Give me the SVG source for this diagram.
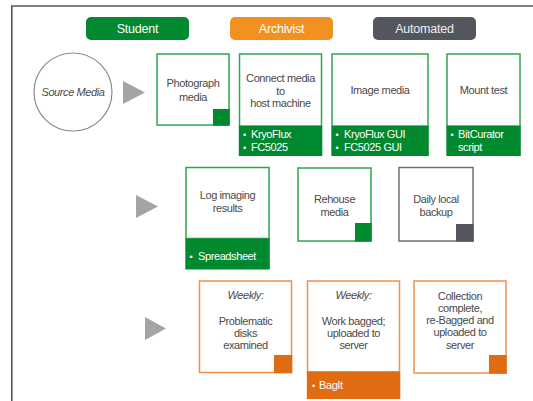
<svg xmlns="http://www.w3.org/2000/svg" width="533" height="401" viewBox="0 0 533 401">
<style>
text{font-family:"Liberation Sans",Arial,sans-serif;font-size:11px;letter-spacing:-0.4px;fill:#4a4a4a;text-anchor:middle}
.pill{font-size:12.5px;letter-spacing:-0.2px;fill:#fff}
.ft{fill:#fff;text-anchor:start}
.b{fill:#fff;font-size:9px}
.it{font-style:italic}
.g{fill:#fff;stroke:#2fa64c;stroke-width:1.5}
.o{fill:#fff;stroke:#f0904c;stroke-width:1.5}
.k{fill:#fff;stroke:#6e7075;stroke-width:1.5}
.gf{fill:#00892f}
.of{fill:#df6b12}
.kf{fill:#53565d}
.arr{fill:#a3a5a4}
</style>
<rect width="533" height="401" fill="#fff"/>
<path d="M11.8 401V6H533" fill="none" stroke="#555" stroke-width="1.6"/>

<g id="legend-student"><rect x="86" y="17" width="103" height="23" rx="5" class="gf"/><text x="137.5" y="33" class="pill">Student</text></g>
<g id="legend-archivist"><rect x="230" y="17" width="103" height="23" rx="5" fill="#f29122"/><text x="281.5" y="33" class="pill">Archivist</text></g>
<g id="legend-automated"><rect x="373" y="17" width="103" height="23" rx="5" class="kf"/><text x="424.5" y="33" class="pill" style="fill:#eee">Automated</text></g>

<g id="source-media"><circle cx="73" cy="92" r="39" fill="#fff" stroke="#8a8a8a" stroke-width="1.2"/><text x="73" y="96" class="it">Source Media</text></g>

<g id="connectors">
<polygon points="123,81 145,92.5 123,104" class="arr"/>
<polygon points="136,195 158,206.5 136,218" class="arr"/>
<polygon points="145,317 166,328.5 145,340" class="arr"/>
</g>

<g id="photograph"><rect x="157" y="54" width="72" height="71" class="g"/><rect x="213" y="109" width="16.7" height="16.7" class="gf"/><text x="193" y="87">Photograph</text><text x="193" y="101">media</text></g>

<g id="connect"><rect x="239.5" y="54" width="82" height="72" class="g"/><rect x="238.8" y="126" width="83.5" height="30" class="gf"/><text x="280.5" y="82">Connect media</text><text x="280.5" y="95">to</text><text x="280.5" y="107">host machine</text><text x="244.5" y="138" class="b">•</text><text x="251" y="138" class="ft">KryoFlux</text><text x="244.5" y="151" class="b">•</text><text x="251" y="151" class="ft">FC5025</text></g>

<g id="image-media"><rect x="332" y="54" width="96" height="72" class="g"/><rect x="331.3" y="126" width="97.5" height="30" class="gf"/><text x="380" y="94">Image media</text><text x="337" y="138" class="b">•</text><text x="344" y="138" class="ft">KryoFlux GUI</text><text x="337" y="151" class="b">•</text><text x="344" y="151" class="ft">FC5025 GUI</text></g>

<g id="mount-test"><rect x="447" y="54" width="73" height="72" class="g"/><rect x="446.3" y="126" width="74.5" height="30" class="gf"/><text x="483.5" y="94">Mount test</text><text x="452" y="138" class="b">•</text><text x="458" y="138" class="ft">BitCurator</text><text x="458" y="151" class="ft">script</text></g>

<g id="log-imaging"><rect x="186" y="167.5" width="83" height="71" class="g"/><rect x="185.3" y="238.5" width="84.5" height="31" class="gf"/><text x="227.5" y="199">Log imaging</text><text x="227.5" y="212">results</text><text x="191" y="260" class="b">•</text><text x="198" y="260" class="ft">Spreadsheet</text></g>

<g id="rehouse"><rect x="298" y="168" width="73" height="73" class="g"/><rect x="355" y="223" width="16.7" height="18.7" class="gf"/><text x="334.5" y="203">Rehouse</text><text x="334.5" y="216">media</text></g>

<g id="daily-backup"><rect x="399" y="167.5" width="74" height="73.5" class="k"/><rect x="456" y="224" width="17.7" height="17.7" class="kf"/><text x="436" y="203">Daily local</text><text x="436" y="216">backup</text></g>

<g id="problematic"><rect x="199.5" y="281" width="92" height="91.5" class="o"/><rect x="274" y="355" width="18.2" height="18.2" class="of"/><text x="245.5" y="299" class="it">Weekly:</text><text x="245.5" y="325">Problematic</text><text x="245.5" y="337">disks</text><text x="245.5" y="349">examined</text></g>

<g id="work-bagged"><rect x="307.5" y="281" width="92" height="91" class="o"/><rect x="306.8" y="371.5" width="93.5" height="27.5" class="of"/><text x="353.5" y="299" class="it">Weekly:</text><text x="353.5" y="325">Work bagged;</text><text x="353.5" y="337">uploaded to</text><text x="353.5" y="349">server</text><text x="313.5" y="389" class="b">•</text><text x="319" y="389" class="ft">BagIt</text></g>

<g id="collection-complete"><rect x="414" y="281" width="92" height="92" class="o"/><rect x="489" y="355" width="17.7" height="18.7" class="of"/><text x="460" y="300">Collection</text><text x="460" y="312">complete,</text><text x="460" y="324">re-Bagged and</text><text x="460" y="336">uploaded to</text><text x="460" y="349">server</text></g>
</svg>
